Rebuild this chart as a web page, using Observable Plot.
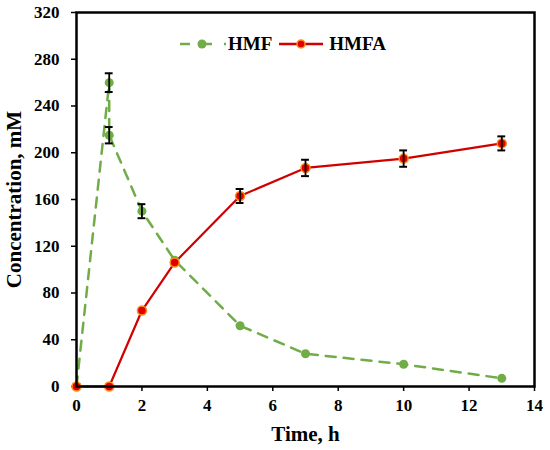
<!DOCTYPE html>
<html>
<head>
<meta charset="utf-8">
<script src="https://cdn.jsdelivr.net/npm/d3@7"></script>
<script src="https://cdn.jsdelivr.net/npm/@observablehq/plot@0.6"></script>
<style>
  body { margin: 0; background: #fff; }
  #wrap { position: relative; width: 550px; height: 450px; font-family: "Liberation Serif", "Times New Roman", serif; }
  #legend { position: absolute; left: 178px; top: 33px; display: flex; align-items: center; font-weight: bold; font-size: 19px; color: #000; }
  #legend svg { display: block; }
</style>
</head>
<body>
<div id="wrap">
  <div id="chart"></div>
  <div id="legend">
    <svg width="50" height="20"><line x1="2" y1="10" x2="48" y2="10" stroke="#70AD47" stroke-width="2.5" stroke-dasharray="10,12"/><circle cx="24" cy="10" r="4.5" fill="#70AD47"/></svg>
    <span style="margin-right:6px">HMF</span>
    <svg width="46" height="20"><line x1="1" y1="10" x2="45" y2="10" stroke="#D00000" stroke-width="2.5"/><circle cx="23" cy="10" r="4" fill="#E00000" stroke="#FF8C1A" stroke-width="1.5"/></svg>
    <span style="margin-left:5px">HMFA</span>
  </div>
</div>
<script>
// Data
const hmfTime = [0, 1, 1, 2, 3, 5, 7, 10, 13];
const hmfConc = [0, 260, 215, 150, 108, 52, 28, 19, 7];
const hmfErr  = [0, 8, 7, 6, 0, 0, 0, 0, 0];

const hmfaTime = [0, 1, 2, 3, 5, 7, 10, 13];
const hmfaConc = [0, 0, 65, 106, 163, 187, 195, 208];
const hmfaErr  = [0, 0, 0, 0, 6, 7, 7, 6];

const xTicks = [0, 2, 4, 6, 8, 10, 12, 14];
const yTicks = [0, 40, 80, 120, 160, 200, 240, 280, 320];

const hmf = hmfTime.map((t, i) => ({x: t, y: hmfConc[i], e: hmfErr[i]}));
const hmfa = hmfaTime.map((t, i) => ({x: t, y: hmfaConc[i], e: hmfaErr[i]}));
const errs = [...hmf, ...hmfa].filter(d => d.e > 0);
const cap = 0.12;

const green = "#70AD47";
const red = "#D00000";

const chart = Plot.plot({
  width: 550,
  height: 450,
  marginLeft: 76,
  marginRight: 16,
  marginTop: 12,
  marginBottom: 64,
  style: { fontFamily: "Liberation Serif, Times New Roman, serif", fontWeight: "bold", color: "#000", background: "#fff" },
  x: { domain: [0, 14] },
  y: { domain: [0, 320] },
  marks: [
    Plot.axisX({ ticks: xTicks, tickSize: 5, tickPadding: 7, fontSize: 17, label: null, strokeWidth: 1.5 }),
    Plot.axisX({ ticks: [], label: "Time, h", labelAnchor: "center", labelArrow: "none", labelOffset: 54, fontSize: 21 }),
    Plot.axisY({ ticks: yTicks, tickSize: 5, tickPadding: 12, fontSize: 17, label: null, strokeWidth: 1.5 }),
    Plot.axisY({ ticks: [], label: "Concentration, mM", labelAnchor: "center", labelArrow: "none", labelOffset: 70, fontSize: 21 }),
    Plot.line(hmf, { x: "x", y: "y", stroke: green, strokeWidth: 2.5, strokeDasharray: "10,8" }),
    Plot.line(hmfa, { x: "x", y: "y", stroke: red, strokeWidth: 2.2 }),
    Plot.dot(hmf, { x: "x", y: "y", r: 4.5, fill: green }),
    Plot.dot(hmfa, { x: "x", y: "y", r: 4.5, fill: "#E00000", stroke: "#FF8C1A", strokeWidth: 1.5 }),
    Plot.ruleX(errs, { x: "x", y1: d => d.y - d.e, y2: d => d.y + d.e, stroke: "black", strokeWidth: 1.8 }),
    Plot.ruleY(errs, { y: d => d.y - d.e, x1: d => d.x - cap, x2: d => d.x + cap, stroke: "black", strokeWidth: 2 }),
    Plot.ruleY(errs, { y: d => d.y + d.e, x1: d => d.x - cap, x2: d => d.x + cap, stroke: "black", strokeWidth: 2 }),
    Plot.frame({ stroke: "black", strokeWidth: 2.5 })
  ]
});
document.getElementById("chart").appendChild(chart);
</script>
</body>
</html>
